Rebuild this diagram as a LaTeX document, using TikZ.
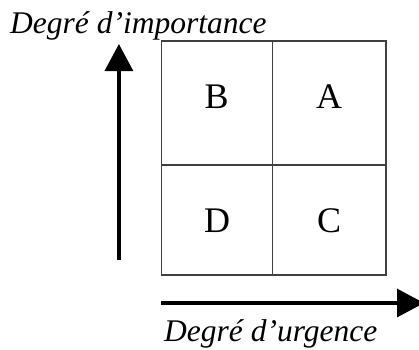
\documentclass[tikz,border=0pt]{standalone}
\usepackage{fontspec}
\setmainfont{Liberation Serif}
\usetikzlibrary{arrows.meta}
\begin{document}
\begin{tikzpicture}[x=1pt,y=-1pt,
  cell/.style={draw=black!75,line width=1.1pt,minimum width=#1,inner sep=0pt,outer sep=0pt},
  letter/.style={font=\fontsize{36}{36}\selectfont,inner sep=0pt},
  axislabel/.style={font=\fontsize{31.5}{31.5}\selectfont\itshape,inner sep=0pt,anchor=base west},
  axis/.style={line width=3.2pt,-{Triangle[width=28pt,length=27pt]}}]
\useasboundingbox (0,0) rectangle (419,349);
\node[cell=111pt,minimum height=124pt] (B) at (217.2,103) {};
\node[cell=113.3pt,minimum height=124pt] (A) at (329.35,103) {};
\node[cell=111pt,minimum height=110pt] (D) at (217.2,220) {};
\node[cell=113.3pt,minimum height=110pt] (C) at (329.35,220) {};
\node[letter,anchor=base] (lB) at (216.7,108.3) {B};
\node[letter,anchor=base] (lA) at (329,108.3) {A};
\node[letter,anchor=base] (lD) at (217,232.7) {D};
\node[letter,anchor=base] (lC) at (329,232.7) {C};
\coordinate (v0) at (118.9,260);
\coordinate (v1) at (118.9,44);
\coordinate (h0) at (161,303);
\coordinate (h1) at (424,303);
\draw[axis] (v0) -- (v1);
\draw[axis] (h0) -- (h1);
\node[axislabel] (imp) at (10,33) {Degré d’importance};
\node[axislabel] (urg) at (164,341.7) {Degré d’urgence};
\end{tikzpicture}
\end{document}
